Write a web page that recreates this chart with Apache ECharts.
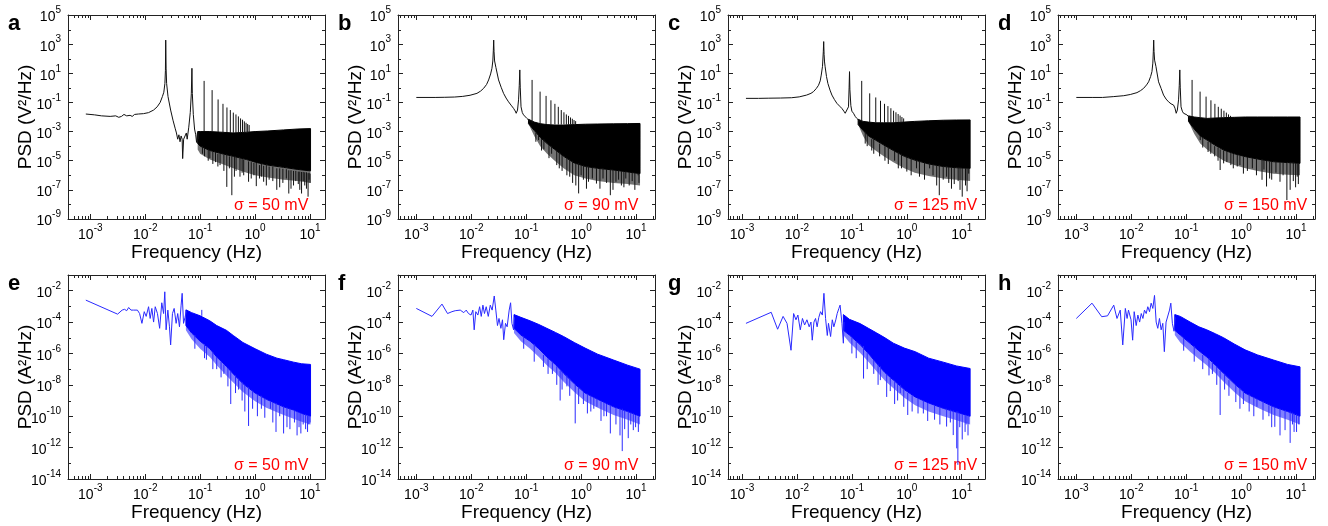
<!DOCTYPE html>
<html><head><meta charset="utf-8">
<script src="https://cdn.jsdelivr.net/npm/echarts@6/dist/echarts.min.js"></script>
<style>html,body{margin:0;padding:0;background:#fff}#c{width:1328px;height:526px}</style>
</head><body><div id="c"></div>
<script>
// ---------------- DATA ----------------
// Top row: voltage PSD (V^2/Hz). Curves are [frequency Hz, PSD]
const aCurve = [[8.3e-4,0.016],[1.2e-3,0.014],[1.6e-3,0.012],[2.3e-3,0.011],[2.9e-3,0.012],[3.3e-3,0.0095],[3.7e-3,0.011],[4.1e-3,0.015],[4.6e-3,0.012],[5.3e-3,0.013],[5.8e-3,0.011],[6.4e-3,0.015],[7.5e-3,0.016],[9.3e-3,0.017],[0.0115,0.02],[0.0142,0.03],[0.0165,0.05],[0.0187,0.1],[0.0205,0.25],[0.0218,0.5],[0.0228,2],[0.0233,15],[0.0236,1900],[0.024,20],[0.0245,2],[0.026,0.25],[0.029,0.03],[0.032,0.006],[0.035,1.7e-3],[0.037,8e-4],[0.039,3e-4],[0.041,6e-4],[0.043,2e-4],[0.045,5e-4],[0.047,3e-4],[0.048,1.4e-5],[0.05,3e-4],[0.053,2.7e-4],[0.056,8e-4],[0.058,3e-4],[0.062,2e-3],[0.066,0.02],[0.069,0.4],[0.0708,22],[0.072,0.4],[0.075,0.015],[0.079,1.5e-3],[0.083,6e-4],[0.086,1.8e-4],[0.089,8e-4],[0.092,3e-4],[0.095,1e-3]];
const bCurve = [[1e-3,0.22],[1.5e-3,0.22],[2.2e-3,0.22],[3.3e-3,0.225],[5e-3,0.235],[7e-3,0.26],[0.0095,0.31],[0.0127,0.42],[0.0148,0.6],[0.0168,0.93],[0.019,1.7],[0.0207,3.5],[0.0225,9],[0.0238,22],[0.0247,70],[0.0252,350],[0.0256,1900],[0.026,300],[0.0266,70],[0.0281,25],[0.0314,3.5],[0.035,1.1],[0.0387,0.42],[0.043,0.2],[0.0477,0.11],[0.053,0.065],[0.0589,0.039],[0.063,0.026],[0.0658,0.018],[0.0695,0.03],[0.0726,0.15],[0.0748,1.5],[0.0765,17],[0.078,1],[0.0805,0.05],[0.085,0.02],[0.0895,0.014],[0.096,0.011],[0.103,0.008],[0.11,0.0065],[0.118,0.0048]];
const cCurve = [[1.18e-3,0.19],[2e-3,0.19],[3e-3,0.195],[5e-3,0.2],[8e-3,0.21],[0.011,0.24],[0.015,0.32],[0.018,0.42],[0.02,0.55],[0.0225,0.9],[0.0247,1.5],[0.0265,3],[0.0277,7.5],[0.0292,30],[0.0302,300],[0.0307,1500],[0.0312,200],[0.0318,60],[0.0326,28],[0.0345,6],[0.0366,2],[0.04,0.7],[0.0433,0.32],[0.048,0.16],[0.0533,0.087],[0.06,0.055],[0.0657,0.039],[0.0715,0.025],[0.0756,0.018],[0.081,0.014],[0.0868,0.05],[0.089,1],[0.0906,13],[0.092,0.8],[0.0958,0.06],[0.1,0.025],[0.107,0.018],[0.115,0.011],[0.123,0.008],[0.132,0.006],[0.141,0.0048]];
const dCurve = [[1e-3,0.22],[2e-3,0.22],[3e-3,0.22],[4.7e-3,0.25],[7.3e-3,0.29],[9.6e-3,0.35],[0.0127,0.47],[0.0148,0.65],[0.0168,0.93],[0.019,1.6],[0.0207,2.6],[0.0225,6],[0.0238,13],[0.0247,50],[0.0252,300],[0.0256,1900],[0.026,300],[0.0266,80],[0.0281,30],[0.0314,2.6],[0.035,0.9],[0.0387,0.32],[0.043,0.17],[0.0477,0.11],[0.053,0.08],[0.0589,0.066],[0.0625,0.04],[0.0658,0.018],[0.069,0.03],[0.0726,0.15],[0.0748,1.5],[0.0765,17],[0.078,1],[0.0805,0.05],[0.085,0.025],[0.0895,0.018],[0.096,0.015],[0.103,0.014],[0.11,0.011],[0.118,0.008]];

// Dense noise bands: [frequency, fringe bottom, solid bottom, top]
const aBand = [[0.09,6e-5,1.5e-4,1e-3],[0.1,3e-5,1e-4,1e-3],[0.15,1.2e-5,5e-5,1e-3],[0.25,6e-6,3e-5,9e-4],[0.4,3e-6,2e-5,8e-4],[0.7,1.5e-6,1.2e-5,9e-4],[1,1e-6,8e-6,1e-3],[1.7,7e-7,5e-6,1.1e-3],[3.3,5e-7,3.5e-6,1.3e-3],[6,4e-7,2.5e-6,1.5e-3],[10.2,3e-7,2e-6,1.6e-3]];
const bBand = [[0.11,3.5e-3,3.5e-3,7e-3],[0.14,5e-4,1.2e-3,4.5e-3],[0.18,1e-4,4e-4,3.5e-3],[0.24,3e-5,1.5e-4,3e-3],[0.33,1e-5,6e-5,2.8e-3],[0.48,3e-6,2e-5,2.8e-3],[0.75,1e-6,7e-6,3e-3],[1.2,6e-7,4e-6,3.2e-3],[2,4e-7,3e-6,3.3e-3],[3.9,3e-7,2.3e-6,3.4e-3],[7,2.5e-7,1.7e-6,3.5e-3],[11.8,2e-7,1.3e-6,3.6e-3]];
const cBand = [[0.13,3e-3,3e-3,7e-3],[0.16,5e-4,1.2e-3,5e-3],[0.2,1.2e-4,5e-4,4.5e-3],[0.27,5e-5,2.6e-4,4e-3],[0.38,2e-5,1.2e-4,4e-3],[0.57,8e-6,5e-5,4e-3],[0.9,3e-6,2e-5,4.5e-3],[1.4,1.5e-6,1.1e-5,5e-3],[2.5,9e-7,6e-6,5.5e-3],[4.6,6e-7,4e-6,6e-3],[8,5e-7,3.3e-6,6.2e-3],[14.2,4e-7,3e-6,6.3e-3]];
const dBand = [[0.11,5e-3,5e-3,1.2e-2],[0.14,7e-4,1.5e-3,1e-2],[0.18,1.5e-4,5e-4,9e-3],[0.24,6e-5,2.6e-4,8e-3],[0.33,2.5e-5,1.2e-4,8.5e-3],[0.48,1e-5,5.4e-5,9e-3],[0.75,5e-6,3e-5,9.5e-3],[1.2,3e-6,1.9e-5,1e-2],[2,2e-6,1.3e-5,1e-2],[3.9,1.3e-6,8.5e-6,1e-2],[7,1.1e-6,7.5e-6,1e-2],[11.8,1e-6,6.6e-6,1e-2]];

// Harmonic peaks and dips: [frequency, from, to]
const aSpikes = [[0.118,1e-3,3],[0.165,1e-3,0.7],[0.212,9e-4,0.16],[0.26,9e-4,0.08],[0.307,9e-4,0.045],[0.354,8e-4,0.03],[0.401,8e-4,0.02],[0.448,8e-4,0.015],[0.496,8e-4,0.011],[0.543,8e-4,0.008],[0.59,8e-4,0.0065],[0.637,8e-4,0.005],[0.684,9e-4,0.004],[0.732,9e-4,0.0033],[0.779,9e-4,0.0028],
  [0.12,8e-5,2e-5],[0.15,5e-5,1.5e-5],[0.19,4e-5,8e-6],[0.23,3e-5,5e-6],[0.305,2.5e-5,1.6e-7],[0.377,2e-5,4.3e-8],[0.45,1.8e-5,2e-6],[0.53,1.5e-5,8e-7],[0.62,1.2e-5,1e-6],[0.76,9e-6,3.6e-7],[0.95,7e-6,1e-6],[1.2,5e-6,6e-7],[1.43,4.5e-6,3.6e-7],[1.8,4e-6,5e-7],[2.48,3e-6,1e-7],[3.2,2.8e-6,3e-7],[4.1,2.2e-6,5.6e-8],[5,2e-6,2e-7],[6.1,1.8e-6,2.5e-7],[7,1.7e-6,5.6e-8],[8,1.6e-6,2e-7],[9.2,1.4e-6,3.4e-8],[10,1.3e-6,3e-7],
  [0.11,1e-4,3e-5],[0.14,6e-5,1e-5],[0.17,4e-5,6e-6],[0.21,3e-5,4e-6],[0.27,2.5e-5,2e-6],[0.34,2e-5,3e-6],[0.42,1.8e-5,8e-7],[0.58,1.3e-5,1.5e-6],[0.85,8e-6,6e-7],[1.05,7e-6,1.8e-7],[1.3,6e-6,8e-7],[1.6,5e-6,2e-7],[2.1,4e-6,4e-7],[2.8,3e-6,1.5e-7],[3.7,2.6e-6,6e-7],[4.5,2.2e-6,1.2e-7],[5.5,2e-6,4e-7],[6.5,1.8e-6,1e-7],[7.5,1.7e-6,4e-7],[8.6,1.6e-6,1.2e-7],[9.6,1.5e-6,5e-7]];
const bSpikes = [[0.128,4e-3,3.5],[0.179,3e-3,0.55],[0.23,3e-3,0.28],[0.282,3e-3,0.14],[0.333,3e-3,0.08],[0.384,3e-3,0.05],[0.435,3e-3,0.03],[0.486,3e-3,0.021],[0.538,3e-3,0.015],[0.589,3e-3,0.012],[0.64,3e-3,0.0093],[0.691,3e-3,0.0076],[0.742,3e-3,0.0062],[0.794,3e-3,0.0052],
  [0.168,6e-4,2.6e-4],[0.21,3e-4,6e-5],[0.29,1e-4,3e-5],[0.4,4e-5,3e-6],[0.55,1.5e-5,1e-6],[0.7,1e-5,3e-7],[0.9,7e-6,5.7e-8],[1.1,5e-6,5e-7],[1.36,4e-6,3.6e-7],[1.9,3e-6,2.7e-7],[2.5,2.7e-6,6e-7],[3.4,2.4e-6,4.3e-8],[4.3,2.2e-6,3.6e-7],[5.4,2e-6,2e-7],[6.5,1.8e-6,6e-7],[8.5,1.6e-6,4e-7],[10.9,1.4e-6,1e-6],
  [0.15,8e-4,2e-4],[0.19,3e-4,5e-5],[0.26,1.2e-4,1.5e-5],[0.36,5e-5,5e-6],[0.45,2.5e-5,2e-6],[0.62,1.2e-5,8e-7],[0.8,7e-6,2e-7],[1.0,5e-6,1e-6],[1.25,4e-6,1.2e-7],[1.6,3.5e-6,6e-7],[2.2,3e-6,1.2e-7],[2.9,2.6e-6,3e-7],[3.8,2.3e-6,1e-7],[4.8,2.1e-6,5e-7],[6,1.9e-6,1.5e-7],[7.5,1.7e-6,2e-7],[9.5,1.5e-6,1e-7],[11.3,1.4e-6,3e-7]];
const cSpikes = [[0.151,5e-3,3],[0.211,4.5e-3,0.42],[0.272,4e-3,0.22],[0.332,4e-3,0.13],[0.393,4e-3,0.08],[0.453,4e-3,0.056],[0.513,4e-3,0.04],[0.574,4e-3,0.027],[0.634,4e-3,0.021],[0.695,4e-3,0.016],[0.755,4e-3,0.0126],[0.815,4.5e-3,0.01],[0.876,4.5e-3,0.008],
  [0.175,1e-3,1.5e-4],[0.23,3e-4,5e-5],[0.4,1e-4,1e-5],[0.7,4e-5,3e-6],[1.0,2e-5,1.8e-6],[1.7,1e-5,8e-7],[2.6,7e-6,3e-6],[3.9,5e-6,4.3e-8],[4.6,4e-6,5e-7],[5.3,4e-6,8e-7],[7.3,3.5e-6,2.5e-7],[10.2,3.2e-6,3.4e-8],[11.7,3.1e-6,2e-7],[13.4,3e-6,1.3e-6],
  [0.19,6e-4,1e-4],[0.25,3e-4,3e-5],[0.32,1.5e-4,2e-5],[0.46,8e-5,6e-6],[0.6,5e-5,1e-5],[0.8,3e-5,3e-6],[1.2,1.4e-5,1e-6],[1.5,1.1e-5,3e-6],[2.1,7e-6,5e-7],[3.0,5e-6,1e-6],[3.5,4.5e-6,2e-7],[5.8,3.8e-6,3e-7],[6.5,3.6e-6,1.2e-7],[8.6,3.3e-6,4e-7],[9.3,3.2e-6,1e-7],[12.5,3e-6,8e-8]];
const dSpikes = [[0.128,1e-2,3.5],[0.179,9e-3,0.55],[0.23,8e-3,0.25],[0.282,8e-3,0.14],[0.333,8.5e-3,0.08],[0.384,8.5e-3,0.05],[0.435,9e-3,0.037],[0.486,9e-3,0.027],[0.538,9e-3,0.02],[0.589,9e-3,0.015],[0.64,9.5e-3,0.012],[0.691,9.5e-3,0.01],
  [0.18,5e-4,2.6e-4],[0.25,2e-4,4e-5],[0.33,1e-4,2e-5],[0.415,6e-5,2.3e-6],[0.48,5e-5,6.6e-6],[0.65,3.5e-5,5e-6],[0.85,2.5e-5,4e-6],[1.1,2e-5,1.3e-6],[1.6,1.5e-5,3e-6],[2.4,1.2e-5,4.9e-7],[2.9,1e-5,1.7e-7],[3.6,8.5e-6,5e-7],[5.1,8e-6,3.6e-7],[6.8,7.5e-6,2e-8],[7.8,7e-6,1e-7],[8.9,7e-6,4e-7],[11,6.6e-6,2.5e-7],
  [0.2,4e-4,8e-5],[0.28,1.8e-4,3e-5],[0.38,8e-5,1e-5],[0.55,4.5e-5,8e-6],[0.72,3e-5,3e-6],[0.95,2.3e-5,5e-6],[1.3,1.8e-5,2e-6],[1.9,1.4e-5,1e-6],[2.6,1.1e-5,2.5e-6],[3.3,9e-6,6e-7],[4.3,8.3e-6,1.5e-6],[5.8,7.8e-6,1e-6],[9.8,6.8e-6,1.5e-7],[10.5,6.7e-6,8e-7]];

// Bottom row: current PSD (A^2/Hz)
const eCurve = [[8.3e-4,2.5e-3],[3.14e-3,3.2e-4],[3.8e-3,5.8e-4],[4.2e-3,6.5e-4],[4.6e-3,5.3e-4],[5e-3,8.5e-4],[5.5e-3,5.8e-4],[6.1e-3,5.8e-4],[6.6e-3,7.4e-4],[7.2e-3,5.8e-4],[7.9e-3,3.5e-4],[8.7e-3,8.3e-5],[9.6e-3,4.6e-4],[0.0104,2.3e-4],[0.0115,9.5e-4],[0.0123,1.7e-4],[0.0132,7.4e-4],[0.0142,1e-4],[0.0152,9.5e-4],[0.0167,3.5e-4],[0.0183,4e-5],[0.02,1.7e-3],[0.0216,3.5e-4],[0.0227,8.5e-3],[0.024,3.2e-5],[0.0258,5.8e-4],[0.0276,5e-5],[0.029,3.5e-6],[0.0313,3.5e-4],[0.0336,7.4e-4],[0.0365,8.3e-5],[0.039,3.5e-4],[0.042,5e-5],[0.045,1.2e-3],[0.047,6.8e-3],[0.0498,8.3e-5],[0.053,2e-4],[0.056,5e-4]];
const fCurve = [[1e-3,7.4e-4],[1.93e-3,2.3e-4],[2.93e-3,1.4e-3],[3.7e-3,3.5e-4],[4.45e-3,4.6e-4],[5.1e-3,5.3e-4],[6.3e-3,5.8e-4],[7.3e-3,4e-4],[8.1e-3,5.8e-4],[8.9e-3,3.5e-4],[9.9e-3,2.8e-4],[0.0107,5.8e-4],[0.0113,3.2e-5],[0.0121,4.6e-4],[0.0132,2.8e-4],[0.0142,9.5e-4],[0.0152,2.3e-4],[0.0163,1.2e-3],[0.0174,3.5e-4],[0.0187,9.5e-4],[0.0204,2.3e-4],[0.0222,1.2e-3],[0.024,5.8e-4],[0.0262,4.6e-3],[0.028,5.8e-4],[0.03,6e-5],[0.032,1.7e-4],[0.0346,4e-5],[0.037,1.4e-4],[0.039,7.5e-6],[0.042,8.3e-5],[0.045,5e-5],[0.049,5.8e-4],[0.052,1.7e-3],[0.055,8.3e-5],[0.059,3.2e-5],[0.061,2e-4]];
const gCurve = [[1.18e-3,8.3e-5],[3.4e-3,4.2e-4],[4.45e-3,3.5e-5],[5.6e-3,2.3e-4],[6.6e-3,8.3e-5],[7.8e-3,1.6e-6],[8.7e-3,3.5e-4],[9.6e-3,1.4e-4],[0.0104,2.8e-4],[0.0115,3.2e-5],[0.0126,1.7e-4],[0.0138,6.5e-5],[0.0152,1.4e-4],[0.0167,5e-5],[0.018,1e-4],[0.019,7e-6],[0.0204,1e-4],[0.0218,1.7e-4],[0.0233,5e-5],[0.025,2e-4],[0.0269,4.6e-4],[0.029,2.8e-4],[0.031,6.8e-3],[0.0332,1.7e-4],[0.0357,1.4e-5],[0.0375,8.3e-5],[0.041,1.2e-5],[0.044,1.4e-4],[0.047,5e-5],[0.051,1.4e-4],[0.054,3.5e-4],[0.058,7.4e-4],[0.061,1.2e-3],[0.066,8.3e-5],[0.07,4.5e-6],[0.072,1e-4]];
const hCurve = [[1e-3,1.7e-4],[1.93e-3,1.6e-3],[2.9e-3,2.2e-4],[3.7e-3,2.5e-4],[4.8e-3,1.2e-3],[5.5e-3,1.7e-4],[6.3e-3,5.8e-4],[7e-3,3.5e-6],[7.8e-3,7.4e-4],[8.4e-3,1.7e-4],[8.9e-3,5.8e-4],[9.9e-3,1.4e-4],[0.0106,7e-6],[0.0113,4.6e-4],[0.0123,6e-5],[0.0132,2.8e-4],[0.0142,1e-4],[0.0152,3.5e-4],[0.0163,1.7e-4],[0.0174,5.8e-4],[0.0187,3.5e-4],[0.02,9.5e-4],[0.0215,4.6e-4],[0.023,1.6e-3],[0.0247,7.4e-4],[0.0265,5e-3],[0.0284,1e-4],[0.0304,4e-5],[0.0326,1.7e-4],[0.035,3.2e-5],[0.0375,8.3e-5],[0.04,1.3e-6],[0.043,1e-4],[0.046,8.3e-5],[0.0497,5.8e-4],[0.0525,1.6e-3],[0.056,8.3e-5],[0.06,2.6e-5],[0.063,2e-4]];

const eBand = [[0.055,3e-5,6e-5,6e-4],[0.07,8e-6,2e-5,4e-4],[0.1,2e-6,6e-6,2.5e-4],[0.15,6e-7,2e-6,1.2e-4],[0.2,1.8e-7,6e-7,6e-5],[0.3,4e-8,1.5e-7,3e-5],[0.4,1.4e-8,5e-8,1.4e-5],[0.6,3.5e-9,1.2e-8,5e-6],[1,9e-10,3e-9,2e-6],[1.6,3.5e-10,1.2e-9,9e-7],[2.5,1.8e-10,6e-10,5e-7],[3.3,1.2e-10,4e-10,4e-7],[5,7e-11,2.5e-10,2.8e-7],[7,4.5e-11,1.5e-10,2.2e-7],[10.2,3e-11,1e-10,2e-7]];
const fBand = [[0.06,2e-5,4e-5,3e-4],[0.08,6e-6,1.5e-5,2e-4],[0.118,2e-6,6e-6,1.2e-4],[0.17,6e-7,2e-6,7e-5],[0.237,1.8e-7,6e-7,4e-5],[0.34,6e-8,2e-7,2.2e-5],[0.48,1.6e-8,5.4e-8,1.2e-5],[0.75,3.5e-9,1.2e-8,5e-6],[1.18,9e-10,3e-9,2.2e-6],[2,3.5e-10,1.2e-9,9e-7],[3.9,1.2e-10,4e-10,3.8e-7],[7,6e-11,2e-10,1.8e-7],[11.8,3e-11,1e-10,1e-7]];
const gBand = [[0.07,1.5e-5,3e-5,3e-4],[0.09,5e-6,1.5e-5,1.5e-4],[0.141,1.1e-6,3.7e-6,8e-5],[0.2,3e-7,1e-6,4e-5],[0.284,7e-8,2.3e-7,2e-5],[0.4,1.8e-8,6e-8,1e-5],[0.57,6e-9,2e-8,4.5e-6],[0.9,1.5e-9,5e-9,2.2e-6],[1.42,5e-10,1.7e-9,1.3e-6],[2.5,2e-10,7e-10,5e-7],[4.6,1e-10,3.2e-10,2.8e-7],[8,5.5e-11,1.8e-10,1.6e-7],[14.2,3e-11,1e-10,1.1e-7]];
const hBand = [[0.062,1.5e-5,3e-5,3e-4],[0.078,5e-6,1.5e-5,2.3e-4],[0.118,1.3e-6,4.4e-6,1e-4],[0.17,4.5e-7,1.5e-6,5e-5],[0.237,1.8e-7,6e-7,3.2e-5],[0.34,5.5e-8,1.8e-7,1.8e-5],[0.48,1.6e-8,5.4e-8,1e-5],[0.75,3.5e-9,1.2e-8,4e-6],[1.18,9e-10,3e-9,1.7e-6],[2,3.5e-10,1.2e-9,8e-7],[3.9,1.2e-10,4e-10,3.8e-7],[7,6e-11,2e-10,2e-7],[11.8,3e-11,1e-10,1.4e-7]];

const eSpikes = [[0.107,2.5e-4,6e-4],[0.12,4e-6,5e-7],[0.2,6e-7,1e-7],[0.27,2e-7,5e-8],[0.36,8e-8,6e-10],[0.5,2.5e-8,5e-9],[0.76,7e-9,2.4e-11],[1.3,2e-9,3e-10],[1.9,9e-10,3e-10],[2.4,7e-10,1e-11],[3.3,4e-10,8e-12],[4.3,3e-10,1.5e-11],[5.8,2e-10,6e-12],[6.8,1.6e-10,8e-12],[8.3,1.3e-10,1.5e-11],[9.5,1.1e-10,3e-11],
  [0.08,1.5e-5,2e-6],[0.13,3e-6,4e-7],[0.17,1.2e-6,1e-7],[0.24,3e-7,3e-8],[0.32,1.2e-7,8e-9],[0.44,4e-8,3e-9],[0.58,1.5e-8,1e-9],[0.65,1e-8,2e-10],[0.9,4e-9,3e-10],[1.1,2.5e-9,1e-10],[1.5,1.3e-9,8e-11],[2.1,8e-10,4e-11],[2.8,5e-10,1e-10],[3.8,3.5e-10,2e-11],[5.2,2.3e-10,4e-11],[6.3,1.8e-10,2e-11],[7.5,1.4e-10,3e-11],[9,1.2e-10,1e-11],[10,1e-10,4e-11]];
const fSpikes = [[0.206,8e-7,1.4e-7],[0.3,3e-7,5e-8],[0.415,8e-8,1e-9],[0.55,4e-8,8e-9],[0.78,1e-8,3.5e-11],[1.1,3.5e-9,6e-10],[1.5,2e-9,2e-10],[1.94,1.3e-9,4e-10],[2.6,8e-10,1e-10],[3.4,5e-10,8e-12],[5.1,3e-10,6e-12],[5.6,3e-10,6e-13],[7.2,2e-10,4e-12],[8.9,1.5e-10,1.3e-11],[11,1e-10,1e-11],
  [0.09,1.2e-5,2e-6],[0.14,4e-6,3e-7],[0.25,5e-7,5e-8],[0.36,1.5e-7,1e-8],[0.45,7e-8,5e-9],[0.62,2.5e-8,2e-9],[0.9,7e-9,6e-10],[1.3,2.7e-9,1.5e-10],[1.7,1.6e-9,3e-10],[2.3,9e-10,5e-11],[2.9,6e-10,1e-10],[4.3,3.5e-10,3e-11],[6.2,2.5e-10,1.5e-11],[8,1.7e-10,3e-11],[9.8,1.2e-10,2e-11]];
const gSpikes = [[0.163,3e-6,2.5e-8],[0.25,4e-7,5e-8],[0.33,1.5e-7,2e-8],[0.43,5e-8,1.7e-9],[0.6,1.5e-8,6e-10],[0.76,1e-8,3e-9],[1.04,3e-9,1.2e-10],[2.0,1e-9,1.5e-10],[5.3,3e-10,2.2e-11],[7.0,2.3e-10,6.3e-12],[8.1,2e-10,9e-13],[8.5,2e-10,8e-14],[10.2,1.4e-10,3.3e-12],[11.5,1.2e-10,1e-11],[13,1.1e-10,6e-12],
  [0.1,1e-5,1e-6],[0.12,6e-6,5e-7],[0.19,1.2e-6,1e-7],[0.3,2e-7,1e-8],[0.5,3e-8,4e-9],[0.68,1.2e-8,1e-9],[0.88,5e-9,4e-10],[1.25,2.2e-9,2e-10],[1.6,1.4e-9,1.5e-10],[2.4,7e-10,5e-11],[3.2,5e-10,6e-11],[4,4e-10,3e-11],[6.2,2.6e-10,4e-11],[9.2,1.6e-10,2e-11],[12,1.1e-10,3e-11]];
const hSpikes = [[0.2,8e-7,1e-7],[0.3,3e-7,5e-8],[0.415,8e-8,1.2e-10],[0.6,2e-8,2e-9],[1.1,4e-9,6e-10],[1.94,1.3e-9,4e-10],[4.1,4e-10,2.1e-11],[5.1,3e-10,6e-12],[6.3,2.5e-10,1.3e-11],[7.8,2e-10,2e-12],[9.2,1.5e-10,1e-11],
  [0.09,1e-5,1.5e-6],[0.14,3e-6,3e-7],[0.26,5e-7,4e-8],[0.36,1.5e-7,1e-8],[0.5,5e-8,5e-9],[0.8,1e-8,8e-10],[0.95,6e-9,3e-10],[1.4,2.5e-9,2e-10],[1.7,1.7e-9,1e-10],[2.5,9e-10,6e-11],[3.2,5e-10,1e-10],[3.6,4.5e-10,2e-11],[8.6,1.7e-10,3e-11],[10.2,1.3e-10,1e-11],[11.2,1.1e-10,3e-11]];

// Axis ranges per column (x) and per row (y), tick lists
const xRanges = [[3.93e-4, 18.7], [4.64e-4, 22.1], [5.56e-4, 26.5], [4.64e-4, 22.1]];
const yRanges = [[1e-9, 1e5], [1e-14, 1e-1]];
const yMinorTicks = [[1e4, 1e2, 1, 1e-2, 1e-4, 1e-6, 1e-8], [1e-3, 1e-5, 1e-7, 1e-9, 1e-11, 1e-13]];
const xMinorMultipliers = [2, 3, 4, 5, 6, 7, 8, 9];
const xDecades = [1e-4, 1e-3, 1e-2, 1e-1, 1, 10];
const letters = ['a','b','c','d','e','f','g','h'];
const sigmas = ['σ = 50 mV','σ = 90 mV','σ = 125 mV','σ = 150 mV'];
const yNames = ['PSD (V²/Hz)', 'PSD (A²/Hz)'];
const xName = 'Frequency (Hz)';

const curves = [aCurve,bCurve,cCurve,dCurve,eCurve,fCurve,gCurve,hCurve];
const bands = [aBand,bBand,cBand,dBand,eBand,fBand,gBand,hBand];
const spikes = [aSpikes,bSpikes,cSpikes,dSpikes,eSpikes,fSpikes,gSpikes,hSpikes];

// ---------------- LAYOUT / STYLE ----------------
const FONT = '"Liberation Sans", Arial, Helvetica, sans-serif';
const colLeft = [68, 398, 728, 1058];
const rowTop = [15, 275];
const W = 257, H = 204;
const rowColor = ['#000000', '#0000ff'];
const lineColor = ['#111111', '#2a2aff'];
const fringeOpacity = [0.55, 0.5];
const AXC = '#222';

const chart = echarts.init(document.getElementById('c'), null, {renderer: 'canvas'});
const grid = [], xAxis = [], yAxis = [], series = [], graphic = [];

function lbl(v) {
  const e = Math.round(Math.log10(v));
  return '{b|10}{s|' + e + '}';
}
const rich = {
  b: {fontSize: 14, fontFamily: FONT, color: '#000', padding: [5, 0, 0, 0], verticalAlign: 'bottom'},
  s: {fontSize: 10, fontFamily: FONT, color: '#000', verticalAlign: 'top'}
};

for (let i = 0; i < 8; i++) {
  const row = Math.floor(i / 4), col = i % 4;
  grid.push({left: colLeft[col], top: rowTop[row], width: W, height: H, containLabel: false});
  const xr = xRanges[col], yr = yRanges[row];
  const axLine = {show: true, lineStyle: {color: AXC, width: 1}};
  xAxis.push({
    type: 'log', gridIndex: i, position: 'bottom', min: xr[0], max: xr[1],
    axisLine: axLine, splitLine: {show: false},
    axisTick: {show: true, inside: true, length: 5, lineStyle: {color: AXC}},
    axisLabel: {formatter: lbl, rich: rich, margin: 4, showMinLabel: false, showMaxLabel: false, hideOverlap: false},
    name: xName, nameLocation: 'middle', nameGap: 24, nameMoveOverlap: false,
    nameTextStyle: {fontSize: 19, fontFamily: FONT, color: '#000'}
  });
  xAxis.push({
    type: 'log', gridIndex: i, position: 'top', min: xr[0], max: xr[1],
    axisLine: axLine, splitLine: {show: false},
    axisTick: {show: true, inside: true, length: 5, lineStyle: {color: AXC}},
    axisLabel: {show: false}
  });
  yAxis.push({
    type: 'log', gridIndex: i, position: 'left', min: yr[0], max: yr[1], interval: 2,
    axisLine: axLine, splitLine: {show: false},
    axisTick: {show: true, inside: true, length: 5, lineStyle: {color: AXC}},
    axisLabel: {formatter: lbl, rich: rich, margin: 7, showMinLabel: true, showMaxLabel: row === 0, hideOverlap: false},
    name: yNames[row], nameLocation: 'middle', nameRotate: 90, nameGap: 33, nameMoveOverlap: false,
    nameTextStyle: {fontSize: 19, fontFamily: FONT, color: '#000'}
  });
  yAxis.push({
    type: 'log', gridIndex: i, position: 'right', min: yr[0], max: yr[1], interval: 2,
    axisLine: axLine, splitLine: {show: false},
    axisTick: {show: true, inside: true, length: 5, lineStyle: {color: AXC}},
    axisLabel: {show: false}
  });

  const xi = 2 * i, yi = 2 * i;
  const fill = rowColor[row], lc = lineColor[row], fo = fringeOpacity[row];
  const band = bands[i];
  // dense noise band: solid core plus lighter lower fringe
  series.push({
    type: 'custom', xAxisIndex: xi, yAxisIndex: yi, data: band, silent: true, z: 2,
    encode: {x: 0, y: [1, 3]},
    renderItem: (params, api) => {
      if (params.dataIndex !== 0) return null;
      const core = [], fringe = [];
      for (let k = 0; k < band.length; k++) core.push(api.coord([band[k][0], band[k][3]]));
      for (let k = band.length - 1; k >= 0; k--) core.push(api.coord([band[k][0], band[k][2]]));
      for (let k = 0; k < band.length; k++) fringe.push(api.coord([band[k][0], band[k][2]]));
      for (let k = band.length - 1; k >= 0; k--) fringe.push(api.coord([band[k][0], band[k][1]]));
      return {type: 'group', children: [
        {type: 'polygon', shape: {points: fringe}, style: {fill: fill, opacity: fo}},
        {type: 'polygon', shape: {points: core}, style: {fill: fill, stroke: fill, lineWidth: 1}}
      ]};
    }
  });
  // spikes (harmonic peaks and dips)
  series.push({
    type: 'custom', xAxisIndex: xi, yAxisIndex: yi, data: spikes[i], silent: true, z: 3,
    encode: {x: 0, y: [1, 2]},
    renderItem: (params, api) => {
      const p1 = api.coord([api.value(0), api.value(1)]);
      const p2 = api.coord([api.value(0), api.value(2)]);
      return {type: 'line', shape: {x1: p1[0], y1: p1[1], x2: p2[0], y2: p2[1]}, style: {stroke: lc, lineWidth: 1}};
    }
  });
  // main trace
  series.push({
    type: 'line', xAxisIndex: xi, yAxisIndex: yi, data: curves[i], showSymbol: false, symbol: 'none',
    lineStyle: {color: lc, width: 1}, z: 4, silent: true
  });
  // minor ticks
  const xMin = [];
  xDecades.forEach(d => xMinorMultipliers.forEach(m => { const v = d * m; if (v > xr[0] && v < xr[1]) xMin.push(v); }));
  const yMin = yMinorTicks[row];
  series.push({
    type: 'custom', xAxisIndex: xi, yAxisIndex: yi, data: [[1, yr[0] * 10]], silent: true, z: 5,
    renderItem: (params, api) => {
      const cs = params.coordSys;
      const ch = [];
      const st = {stroke: AXC, lineWidth: 1};
      xMin.forEach(v => {
        const x = Math.round(api.coord([v, yr[0] * 10])[0]) + 0.5;
        ch.push({type: 'line', shape: {x1: x, y1: cs.y + cs.height, x2: x, y2: cs.y + cs.height - 3}, style: st});
        ch.push({type: 'line', shape: {x1: x, y1: cs.y, x2: x, y2: cs.y + 3}, style: st});
      });
      yMin.forEach(v => {
        const y = Math.round(api.coord([1, v])[1]) + 0.5;
        ch.push({type: 'line', shape: {x1: cs.x, y1: y, x2: cs.x + 3, y2: y}, style: st});
        ch.push({type: 'line', shape: {x1: cs.x + cs.width, y1: y, x2: cs.x + cs.width - 3, y2: y}, style: st});
      });
      return {type: 'group', children: ch};
    }
  });

  graphic.push({type: 'text', left: colLeft[col] - 60, top: rowTop[row] - 2,
    style: {text: letters[i], font: 'bold 22px ' + FONT, fill: '#000'}});
  graphic.push({type: 'text', left: colLeft[col] + 166, top: rowTop[row] + H - 21,
    style: {text: sigmas[col], font: '16px ' + FONT, fill: '#ff0000'}});
}

chart.setOption({
  animation: false,
  backgroundColor: '#ffffff',
  grid, xAxis, yAxis, series, graphic
});
</script>
</body></html>
